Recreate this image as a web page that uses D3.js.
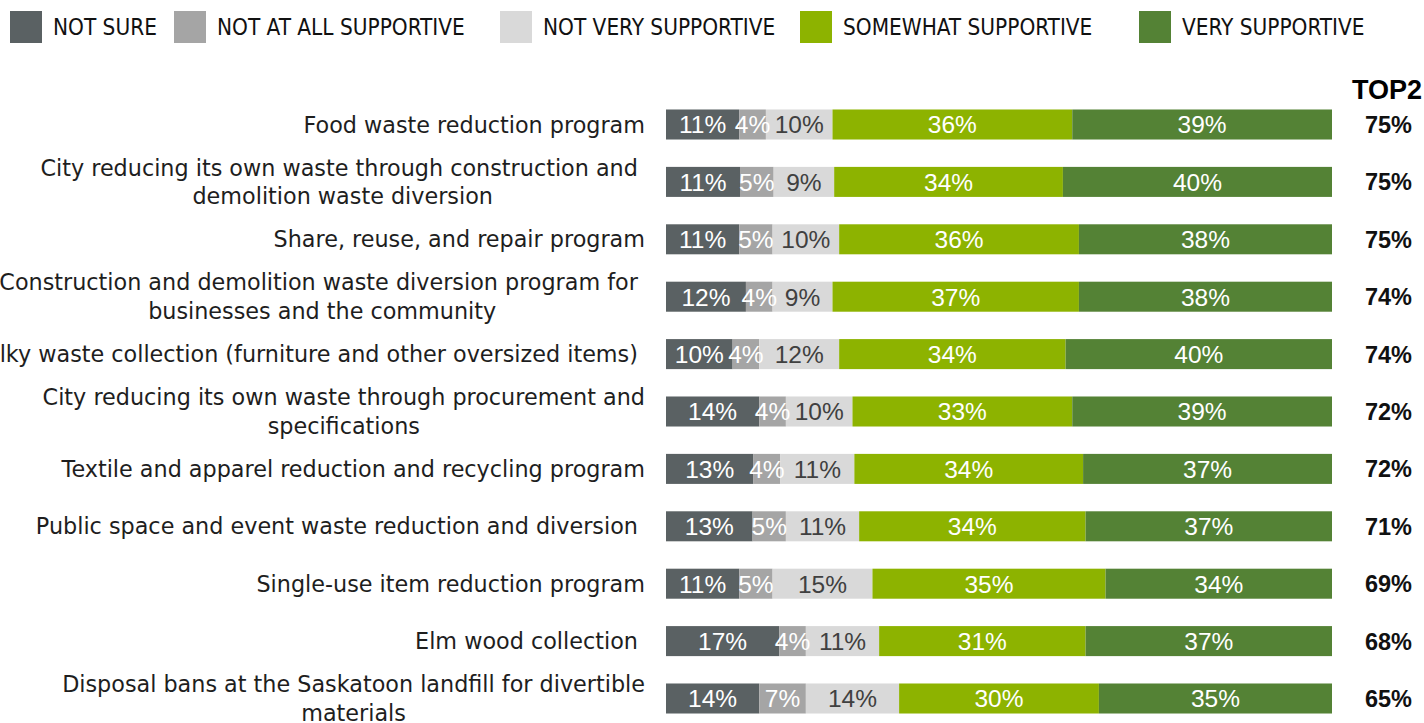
<!DOCTYPE html>
<html>
<head>
<meta charset="utf-8">
<script src="https://cdn.jsdelivr.net/npm/d3@7"></script>
<style>
  html, body { margin: 0; padding: 0; background: #fff; }
  svg { display: block; }
  .cat tspan { white-space: pre; }
</style>
</head>
<body>
<svg id="chart" width="1424" height="723"></svg>
<script>
// Support for waste-reduction programs (share of respondents)
const categories = [
  ["Food waste reduction program"],
  ["City reducing its own waste through construction and ", "demolition waste diversion"],
  ["Share, reuse, and repair program"],
  ["Construction and demolition waste diversion program for ", "businesses and the community"],
  ["Bulky waste collection (furniture and other oversized items) "],
  ["City reducing its own waste through procurement and", "specifications"],
  ["Textile and apparel reduction and recycling program"],
  ["Public space and event waste reduction and diversion "],
  ["Single-use item reduction program"],
  ["Elm wood collection "],
  ["Disposal bans at the Saskatoon landfill for divertible", "materials"]
];

const seriesNames = ["NOT SURE", "NOT AT ALL SUPPORTIVE", "NOT VERY SUPPORTIVE", "SOMEWHAT SUPPORTIVE", "VERY SUPPORTIVE"];

const notSure      = [11, 11, 11, 12, 10, 14, 13, 13, 11, 17, 14];
const notAtAll     = [ 4,  5,  5,  4,  4,  4,  4,  5,  5,  4,  7];
const notVery      = [10,  9, 10,  9, 12, 10, 11, 11, 15, 11, 14];
const somewhat     = [36, 34, 36, 37, 34, 33, 34, 34, 35, 31, 30];
const very         = [39, 40, 38, 38, 40, 39, 37, 37, 34, 37, 35];
const top2         = [75, 75, 75, 74, 74, 72, 72, 71, 69, 68, 65];

const colors     = ["#5a6163", "#a5a5a5", "#d9d9d9", "#8db300", "#548235"];
const textColors = ["#ffffff", "#ffffff", "#404040", "#ffffff", "#ffffff"];

const seriesValues = [notSure, notAtAll, notVery, somewhat, very];
const rows = categories.map((c, i) => {
  const r = { key: i };
  seriesNames.forEach((s, j) => { r[s] = seriesValues[j][i]; });
  return r;
});

const svg = d3.select("#chart");

// ---- scales ----
const x = d3.scaleLinear().domain([0, 1]).range([666, 1332]);
const y = d3.scaleBand()
  .domain(d3.range(categories.length))
  .range([95.8, 727.2])
  .paddingInner(0.477)
  .paddingOuter(0.2385);

const stack = d3.stack().keys(seriesNames).offset(d3.stackOffsetExpand);
const stacked = stack(rows);

// ---- bars ----
const layer = svg.append("g").selectAll("g")
  .data(stacked)
  .join("g")
  .attr("fill", (d, i) => colors[i]);

layer.selectAll("rect")
  .data(d => d)
  .join("rect")
  .attr("x", d => x(d[0]))
  .attr("y", (d, i) => y(i))
  .attr("width", d => x(d[1]) - x(d[0]))
  .attr("height", y.bandwidth());

// ---- segment value labels ----
stacked.forEach((s, si) => {
  svg.append("g").selectAll("text")
    .data(s)
    .join("text")
    .attr("x", d => (x(d[0]) + x(d[1])) / 2)
    .attr("y", (d, i) => y(i) + y.bandwidth() / 2)
    .attr("dy", "0.36em")
    .attr("text-anchor", "middle")
    .attr("fill", textColors[si])
    .style("font-family", "'Liberation Sans', Arial, sans-serif")
    .style("font-size", "24.5px")
    .text(d => d.data[s.key] + "%");
});

// ---- category labels (wrapped lines centred on each other, block right-aligned) ----
const labelRight = 645;
const lineGap = 28.5;
const catG = svg.append("g")
  .attr("class", "cat")
  .style("font-family", "'DejaVu Sans', sans-serif")
  .style("font-size", "22.3px")
  .attr("fill", "#1e1e1e");

categories.forEach((lines, i) => {
  const cy = y(i) + y.bandwidth() / 2;
  const t = catG.append("text").attr("text-anchor", "middle");
  const spans = lines.map((ln, k) =>
    t.append("tspan")
      .attr("y", cy + (k - (lines.length - 1) / 2) * lineGap)
      .attr("dy", "0.36em")
      .text(ln)
  );
  const maxW = d3.max(spans, sp => sp.node().getComputedTextLength());
  spans.forEach(sp => sp.attr("x", labelRight - maxW / 2));
});

// ---- TOP2 column ----
svg.append("text")
  .attr("x", 1387)
  .attr("y", 99)
  .attr("text-anchor", "middle")
  .style("font-family", "'Liberation Sans', Arial, sans-serif")
  .style("font-weight", "bold")
  .style("font-size", "27px")
  .attr("fill", "#000")
  .text("TOP2");

svg.append("g").selectAll("text")
  .data(top2)
  .join("text")
  .attr("x", 1388.5)
  .attr("y", (d, i) => y(i) + y.bandwidth() / 2)
  .attr("dy", "0.36em")
  .attr("text-anchor", "middle")
  .style("font-family", "'Liberation Sans', Arial, sans-serif")
  .style("font-weight", "bold")
  .style("font-size", "23.5px")
  .attr("fill", "#111")
  .text(d => d + "%");

// ---- legend ----
const legendX = [10, 174, 500, 800, 1139];
const legend = svg.append("g").selectAll("g")
  .data(seriesNames)
  .join("g")
  .attr("transform", (d, i) => `translate(${legendX[i]},11)`);

legend.append("rect")
  .attr("width", 32)
  .attr("height", 32)
  .attr("fill", (d, i) => colors[i]);

legend.append("text")
  .attr("x", 43)
  .attr("y", 16)
  .attr("dy", "0.36em")
  .style("font-family", "'Liberation Sans Narrow', 'Arial Narrow', 'DejaVu Sans Condensed', sans-serif")
  .style("font-stretch", "condensed")
  .style("font-size", "22.4px")
  .attr("fill", "#111")
  .text(d => d);
</script>
</body>
</html>
